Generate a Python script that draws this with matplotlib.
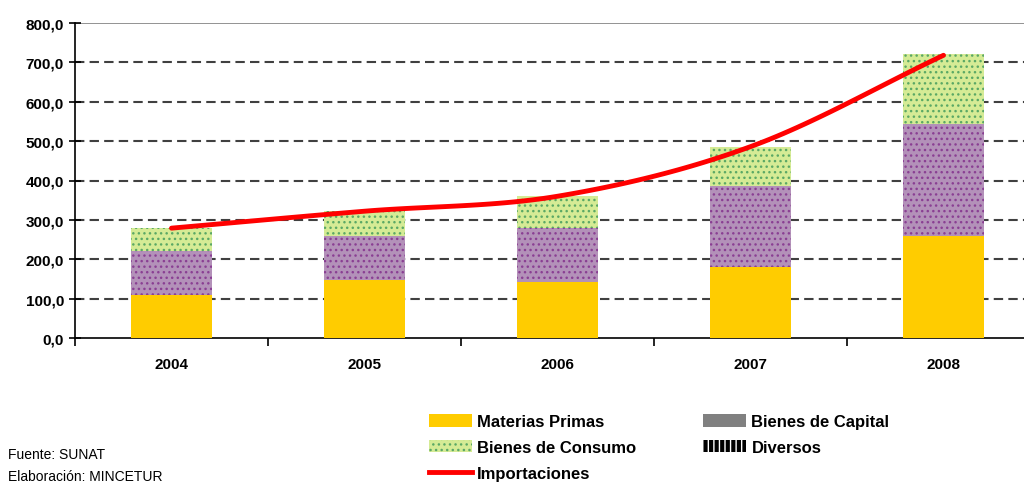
import numpy as np
import matplotlib
matplotlib.use('Agg')
from matplotlib import pyplot as plt
from matplotlib.patches import Patch
from matplotlib.lines import Line2D
from matplotlib.ticker import FuncFormatter

years = ['2004', '2005', '2006', '2007', '2008']
materias_primas = [109, 147, 142, 180, 258]
bienes_capital = [112, 112, 137, 207, 285]
bienes_consumo = [58, 63, 81, 99, 178]
importaciones = [279, 322, 360, 486, 718]

plt.rcParams['font.family'] = ['Liberation Sans', 'DejaVu Sans']
plt.rcParams['hatch.linewidth'] = 1.0

fig = plt.figure(figsize=(10.24, 4.85), dpi=100)
ax = fig.add_axes([75 / 1024, 1 - 339 / 485, 965 / 1024, 315 / 485])

x = np.arange(len(years))
w = 0.42
mp = np.array(materias_primas)
bc = np.array(bienes_capital)
bco = np.array(bienes_consumo)

ax.bar(x, mp, w, color='#ffcc00', zorder=3)
ax.bar(x, bc, w, bottom=mp, facecolor='#b391b9', edgecolor='#8a3f93',
       hatch='...', linewidth=0, zorder=3)
ax.bar(x, bco, w, bottom=mp + bc, facecolor='#d5eb95', edgecolor='#5aa865',
       hatch='...', linewidth=0, zorder=3)

# smooth line through the points (Catmull-Rom)
pts = np.column_stack([x, importaciones]).astype(float)
ext = np.vstack([2 * pts[0] - pts[1], pts, 2 * pts[-1] - pts[-2]])
sx, sy = [], []
for i in range(1, len(ext) - 2):
    p0, p1, p2, p3 = ext[i - 1], ext[i], ext[i + 1], ext[i + 2]
    for t in np.linspace(0, 1, 30):
        c = 0.5 * ((2 * p1) + (-p0 + p2) * t + (2 * p0 - 5 * p1 + 4 * p2 - p3) * t ** 2
                   + (-p0 + 3 * p1 - 3 * p2 + p3) * t ** 3)
        sx.append(c[0])
        sy.append(c[1])
ax.plot(sx, sy, color='#ff0000', lw=3.5, solid_capstyle='round', zorder=4)

ax.set_xlim(-0.5, 4.5)
ax.set_ylim(0, 800)
ax.set_yticks(np.arange(0, 801, 100))
ax.yaxis.set_major_formatter(FuncFormatter(lambda v, p: ('%.1f' % v).replace('.', ',')))
for v in range(100, 800, 100):
    ax.axhline(v, color='#404040', lw=1.5, linestyle=(0, (4.5, 2.5)), zorder=1)
ax.axhline(800, color='#808080', lw=1.2, zorder=1)

ax.set_xticks(x)
ax.set_xticklabels(years)
ax.set_xticks(np.arange(-0.5, 5, 1), minor=True)
ax.tick_params(axis='x', which='major', length=0, pad=14, labelsize=11)
ax.tick_params(axis='x', which='minor', length=6, width=1.2, direction='out')
ax.tick_params(axis='y', length=8, width=1.2, direction='inout', labelsize=11, pad=4)
for lab in ax.get_xticklabels() + ax.get_yticklabels():
    lab.set_fontweight('bold')

for s in ['top', 'right']:
    ax.spines[s].set_visible(False)
ax.spines['left'].set_linewidth(1.2)
ax.spines['bottom'].set_linewidth(1.2)

handles = [
    Patch(facecolor='#ffcc00', label='Materias Primas'),
    Patch(facecolor='#d5eb95', edgecolor='#5aa865', hatch='...', linewidth=0, label='Bienes de Consumo'),
    Line2D([], [], color='#ff0000', lw=3.5, label='Importaciones'),
    Patch(facecolor='#808080', label='Bienes de Capital'),
    Patch(facecolor='black', edgecolor='white', hatch='|||', linewidth=0, label='Diversos'),
]
leg = fig.legend(handles=handles, loc='upper left', bbox_to_anchor=(414 / 1024, 1 - 400 / 485),
                 ncol=2, frameon=False, handlelength=2.6, handleheight=0.78,
                 handletextpad=0.3, columnspacing=4.0, labelspacing=0.65,
                 prop={'weight': 'bold', 'size': 12})

fig.text(8 / 1024, 1 - 455 / 485, 'Fuente: SUNAT', fontsize=10, va='center')
fig.text(8 / 1024, 1 - 477 / 485, 'Elaboración: MINCETUR', fontsize=10, va='center')

plt.savefig('out.png', dpi=100)
